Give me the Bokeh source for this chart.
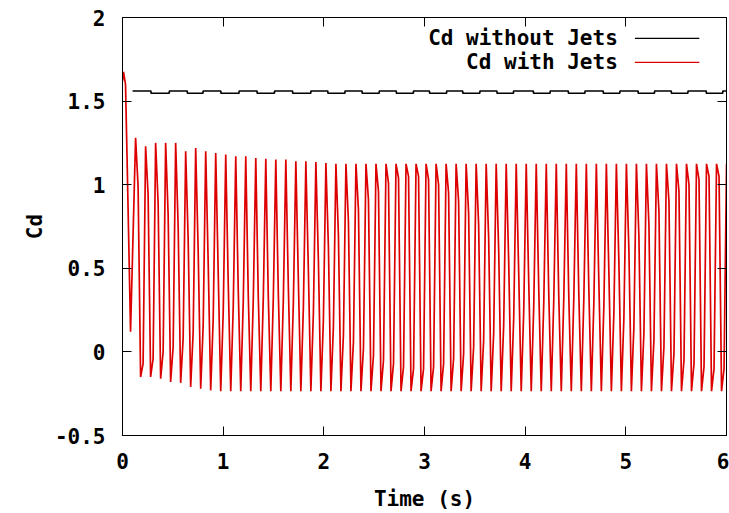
import numpy as np
from bokeh.plotting import figure
from bokeh.models import LinearAxis, Range1d, Label, FixedTicker
from bokeh.embed import file_html
from bokeh.resources import INLINE

# ---------------- data ----------------
x_ticks = [0, 1, 2, 3, 4, 5, 6]
y_ticks = [-0.5, 0, 0.5, 1, 1.5, 2]
y_tick_labels = {-0.5: "-0.5", 0: "0", 0.5: "0.5", 1: "1", 1.5: "1.5", 2: "2"}
x_tick_labels = {0: "0", 1: "1", 2: "2", 3: "3", 4: "4", 5: "5", 6: "6"}
x_title = "Time (s)"
y_title = "Cd"
series_names = ["Cd without Jets", "Cd with Jets"]

# Cd without jets: step-like signal (switch times and levels)
nojet_switch_t = [0.10, 0.283, 0.465, 0.644, 0.80, 0.977, 1.158, 1.337, 1.51, 1.69,
                  1.871, 2.04, 2.21, 2.38, 2.55, 2.72, 2.89, 3.05, 3.22, 3.38,
                  3.55, 3.72, 3.884, 4.082, 4.248, 4.429, 4.594, 4.776, 4.941, 5.122,
                  5.285, 5.452, 5.617, 5.799, 5.963, 6.0]
nojet_level = [1.56, 1.547, 1.56, 1.547, 1.56, 1.547, 1.56, 1.547, 1.56, 1.547,
               1.56, 1.547, 1.56, 1.547, 1.56, 1.547, 1.56, 1.547, 1.56, 1.547,
               1.56, 1.547, 1.56, 1.547, 1.56, 1.547, 1.56, 1.547, 1.56, 1.547,
               1.56, 1.547, 1.56, 1.547, 1.56]

# Cd with jets: initial transient
jet_init_t = [0.0, 0.01, 0.03, 0.045, 0.08]
jet_init_v = [1.62, 1.675, 1.60, 1.17, 0.12]

# Cd with jets: per-cycle values (top, falling mid, bottom, rising mid)
jet_cycle_start = 0.13
jet_cycle_period = 0.0995
jet_top = [1.28, 1.23, 1.25, 1.25, 1.25, 1.20, 1.22, 1.20, 1.19, 1.18,
           1.17, 1.17, 1.16, 1.155, 1.15, 1.15, 1.14, 1.14, 1.135, 1.13,
           1.125, 1.125, 1.125, 1.125, 1.125, 1.125, 1.125, 1.125, 1.125, 1.125,
           1.125, 1.125, 1.125, 1.125, 1.125, 1.125, 1.125, 1.125, 1.125, 1.125,
           1.125, 1.125, 1.125, 1.125, 1.125, 1.125, 1.125, 1.125, 1.125, 1.125,
           1.125, 1.125, 1.125, 1.125, 1.125, 1.125, 1.125, 1.125, 1.125, 1.125]
jet_mid_down = [0.99, 0.94, 0.89, 0.82, 0.75, 0.67, 0.60, 0.53, 0.47, 0.41,
                0.37, 0.34, 0.33, 0.33, 0.35, 0.39, 0.43, 0.49, 0.55, 0.63,
                0.70, 0.78, 0.85, 0.91, 0.96, 1.01, 1.04, 1.05, 1.05, 1.03,
                1.00, 0.95, 0.90, 0.83, 0.76, 0.68, 0.61, 0.54, 0.47, 0.42,
                0.38, 0.35, 0.33, 0.33, 0.35, 0.38, 0.42, 0.48, 0.54, 0.61,
                0.69, 0.76, 0.84, 0.90, 0.96, 1.00, 1.03, 1.05, 1.05]
jet_bottom = [-0.15, -0.15, -0.16, -0.18, -0.185, -0.21, -0.22, -0.23, -0.235, -0.235,
              -0.235, -0.235, -0.235, -0.235, -0.235, -0.235, -0.235, -0.235, -0.235, -0.235,
              -0.235, -0.235, -0.235, -0.235, -0.235, -0.235, -0.235, -0.235, -0.235, -0.235,
              -0.235, -0.235, -0.235, -0.235, -0.235, -0.235, -0.235, -0.235, -0.235, -0.235,
              -0.235, -0.235, -0.235, -0.235, -0.235, -0.235, -0.235, -0.235, -0.235, -0.235,
              -0.235, -0.235, -0.235, -0.235, -0.235, -0.235, -0.235, -0.235, -0.235]
jet_mid_up = [-0.07, -0.04, 0.00, 0.03, 0.08, 0.12, 0.16, 0.20, 0.24, 0.27,
              0.30, 0.31, 0.32, 0.32, 0.31, 0.29, 0.26, 0.23, 0.19, 0.15,
              0.10, 0.06, 0.02, -0.02, -0.05, -0.07, -0.09, -0.10, -0.10, -0.09,
              -0.07, -0.04, -0.01, 0.03, 0.07, 0.11, 0.16, 0.20, 0.24, 0.27,
              0.29, 0.31, 0.32, 0.32, 0.31, 0.29, 0.27, 0.23, 0.20, 0.15,
              0.11, 0.07, 0.03, -0.01, -0.05, -0.07, -0.09, -0.10, -0.10]

# ---------------- build line coordinates ----------------
nj_t, nj_v = [], []
for i, lev in enumerate(nojet_level):
    nj_t += [nojet_switch_t[i], nojet_switch_t[i + 1]]
    nj_v += [lev, lev]

j_t = list(jet_init_t)
j_v = list(jet_init_v)
T = jet_cycle_period
for k in range(len(jet_bottom)):
    t0 = jet_cycle_start + k * T
    j_t += [t0, t0 + T / 4, t0 + T / 2, t0 + 3 * T / 4]
    j_v += [jet_top[k], jet_mid_down[k], jet_bottom[k], jet_mid_up[k]]
j_t.append(jet_cycle_start + len(jet_bottom) * T)
j_v.append(jet_top[len(jet_bottom)])

# ---------------- figure ----------------
FONT = "DejaVu Sans Mono"
FS = "21px"
RED = "#dd0000"

p = figure(width=729, height=513, output_backend="svg", toolbar_location=None,
           x_range=Range1d(0, 6), y_range=Range1d(-0.5, 2),
           min_border_left=122, min_border_right=3, min_border_top=17, min_border_bottom=76)
p.background_fill_color = "white"
p.border_fill_color = "white"
p.outline_line_color = "black"
p.outline_line_width = 1
p.xgrid.visible = False
p.ygrid.visible = False

def style_axis(ax, ticks, overrides):
    ax.ticker = FixedTicker(ticks=ticks)
    ax.major_label_overrides = overrides
    ax.major_tick_in = 9
    ax.major_tick_out = 0
    ax.minor_tick_in = 0
    ax.minor_tick_out = 0
    ax.major_tick_line_color = "black"
    ax.axis_line_color = "black"
    ax.major_label_text_font = FONT
    ax.major_label_text_font_style = "bold"
    ax.major_label_text_font_size = FS
    ax.major_label_text_color = "black"
    ax.axis_label_text_font = FONT
    ax.axis_label_text_font_style = "bold"
    ax.axis_label_text_font_size = FS
    ax.axis_label_text_color = "black"

style_axis(p.xaxis[0], x_ticks, x_tick_labels)
style_axis(p.yaxis[0], y_ticks, y_tick_labels)
p.xaxis[0].major_label_standoff = 17
p.yaxis[0].major_label_standoff = 17
p.xaxis[0].axis_label = x_title
p.yaxis[0].axis_label = y_title
p.xaxis[0].axis_label_standoff = 15
p.yaxis[0].axis_label_standoff = 5

# mirrored tick marks (top / right), no labels
top_ax = LinearAxis()
style_axis(top_ax, x_ticks, {t: "" for t in x_ticks})
p.add_layout(top_ax, "above")
right_ax = LinearAxis()
style_axis(right_ax, y_ticks, {t: "" for t in y_ticks})
p.add_layout(right_ax, "right")

# data lines
p.line(nj_t, nj_v, line_color="black", line_width=1.6)
p.line(j_t, j_v, line_color=RED, line_width=1.7)

# legend (gnuplot style: text then sample)
leg_items = [(series_names[0], "black", 1.875), (series_names[1], RED, 1.732)]
for txt, col, yy in leg_items:
    p.add_layout(Label(x=4.92, y=yy, text=txt, text_align="right", text_baseline="middle",
                       text_font=FONT, text_font_style="bold", text_font_size=FS,
                       text_color="black"))
    p.segment(x0=[5.09], y0=[yy], x1=[5.73], y1=[yy], line_color=col, line_width=1.3)

open("out.html", "w").write(file_html(p, INLINE))
